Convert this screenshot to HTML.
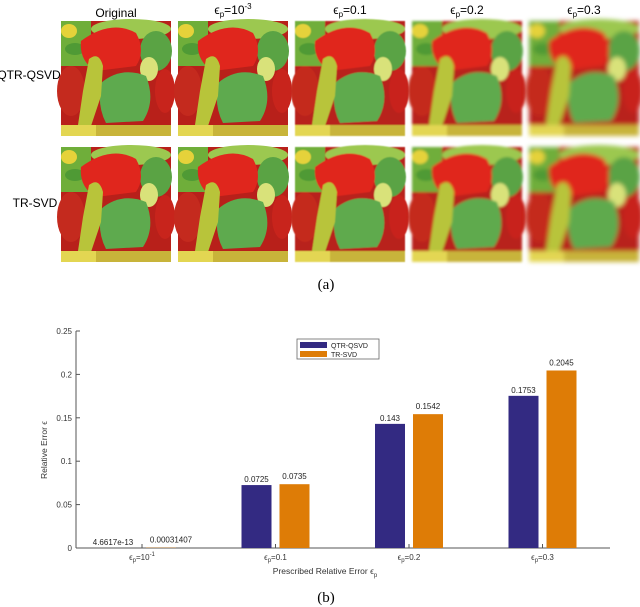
<!DOCTYPE html>
<html><head><meta charset="utf-8"><style>
body{margin:0;background:#fff;width:640px;height:607px;overflow:hidden;font-family:"Liberation Sans",sans-serif}
svg{display:block}
</style></head><body>
<svg width="640" height="607" viewBox="0 0 640 607">
<defs>
<filter id="b1"><feGaussianBlur stdDeviation="0.6"/></filter>
<filter id="b2"><feGaussianBlur stdDeviation="1.4"/></filter>
<filter id="b3"><feGaussianBlur stdDeviation="2.4"/></filter>
<g id="pep">
<rect x="0" y="0" width="110" height="115" fill="#b8201a"/>
<rect x="0" y="0" width="30" height="45" fill="#6fae3a"/>
<ellipse cx="8" cy="10" rx="8" ry="7" fill="#e5d23a"/>
<ellipse cx="14" cy="28" rx="10" ry="6" fill="#4f9a35"/>
<ellipse cx="70" cy="8" rx="40" ry="10" fill="#9cc850"/>
<ellipse cx="95" cy="30" rx="16" ry="20" fill="#5aa344"/>
<ellipse cx="88" cy="48" rx="9" ry="12" fill="#d9e27a"/>
<ellipse cx="104" cy="70" rx="10" ry="22" fill="#c8241c"/>
<ellipse cx="10" cy="70" rx="14" ry="25" fill="#c42a1e"/>
<path d="M20 20 Q50 -2 75 12 Q85 30 75 45 L35 50 Q18 40 20 20Z" fill="#e0261d"/>
<path d="M40 62 Q60 45 85 55 Q95 80 82 100 L45 102 Q36 85 40 62Z" fill="#5eaa4e"/>
<path d="M28 38 Q38 30 42 45 L40 75 L30 105 L17 104 L22 70Z" fill="#b8c43a"/>
<rect x="0" y="104" width="110" height="11" fill="#c8b43a"/>
<rect x="0" y="104" width="35" height="11" fill="#e3d652"/>
</g>
</defs>

<g font-size="12">
<text x="116" y="17" text-anchor="middle">Original</text>
<text x="233" y="14" text-anchor="middle">ϵ<tspan font-size="8" dy="3">p</tspan><tspan dy="-3">=10</tspan><tspan font-size="8" dy="-5">-3</tspan></text>
<text x="350" y="14" text-anchor="middle">ϵ<tspan font-size="8" dy="3">p</tspan><tspan dy="-3">=0.1</tspan></text>
<text x="467" y="14" text-anchor="middle">ϵ<tspan font-size="8" dy="3">p</tspan><tspan dy="-3">=0.2</tspan></text>
<text x="584" y="14" text-anchor="middle">ϵ<tspan font-size="8" dy="3">p</tspan><tspan dy="-3">=0.3</tspan></text>
<text x="29" y="79" text-anchor="middle">QTR-QSVD</text>
<text x="35" y="207" text-anchor="middle">TR-SVD</text>
<g>
<use href="#pep" x="61" y="21"/>
<use href="#pep" x="178" y="21"/>
<use href="#pep" x="295" y="21" filter="url(#b1)"/>
<use href="#pep" x="412" y="21" filter="url(#b2)"/>
<use href="#pep" x="529" y="21" filter="url(#b3)"/>
</g>
<g>
<use href="#pep" x="61" y="147"/>
<use href="#pep" x="178" y="147"/>
<use href="#pep" x="295" y="147" filter="url(#b1)"/>
<use href="#pep" x="412" y="147" filter="url(#b2)"/>
<use href="#pep" x="529" y="147" filter="url(#b3)"/>
</g>
<text x="326" y="289" text-anchor="middle" font-family="Liberation Serif,serif" font-size="15">(a)</text>
</g>

<g id="chart"></g>
<text x="326" y="602" text-anchor="middle" font-family="Liberation Serif,serif" font-size="15">(b)</text>
</svg>
<script>
const categories=["ϵp=10^-1","ϵp=0.1","ϵp=0.2","ϵp=0.3"];
const catBase=["10","0.1","0.2","0.3"];
const qtrValues=[4.6617e-13,0.0725,0.143,0.1753];
const trValues=[0.00031407,0.0735,0.1542,0.2045];
const qtrLabels=["4.6617e-13","0.0725","0.143","0.1753"];
const trLabels=["0.00031407","0.0735","0.1542","0.2045"];
const yTicks=[0,0.05,0.1,0.15,0.2,0.25];

const NS="http://www.w3.org/2000/svg";
const g=document.getElementById('chart');
const X0=76,X1=610,Y0=548,Y1=331,YMAX=0.25;
const y=v=>Y0-(v/YMAX)*(Y0-Y1);
const gw=(X1-X0)/categories.length;
const xc=i=>142+i*gw*1.0;
function mk(t,a,txt){const e=document.createElementNS(NS,t);for(const k in a)e.setAttribute(k,a[k]);if(txt!=null)e.textContent=txt;g.appendChild(e);return e;}
let e;
e=mk('line',{x1:X0,y1:Y0,x2:X1,y2:Y0,stroke:'#555','stroke-width':1});


e=mk('line',{x1:X0,y1:Y0,x2:X0,y2:Y1,stroke:'#555','stroke-width':1});


yTicks.forEach(v=>{
 mk('line',{x1:X0,y1:y(v),x2:X0+4,y2:y(v),stroke:'#555'});
 e=mk('text',{x:X0-4,y:y(v)+3,'text-anchor':'end','font-size':8,fill:'#333'},String(v));
 
 
});
const bw=30;
categories.forEach((c,i)=>{
 const cx=xc(i);
 mk('line',{x1:cx,y1:Y0,x2:cx,y2:Y0-4,stroke:'#555'});
 e=mk('rect',{x:cx-4-bw,y:y(qtrValues[i]),width:bw,height:Y0-y(qtrValues[i]),fill:'#332a82'});
 
 
 e=mk('rect',{x:cx+4,y:y(trValues[i]),width:bw,height:Y0-y(trValues[i]),fill:'#de7c06'});
 
 
 e=mk('text',{x:cx-4-bw/2+(i==0?-10:0),y:y(qtrValues[i])-3,'text-anchor':'middle','font-size':8,fill:'#222'},qtrLabels[i]);
 
 
 e=mk('text',{x:cx+4+bw/2+(i==0?10:0),y:y(trValues[i])-5,'text-anchor':'middle','font-size':8,fill:'#222'},trLabels[i]);
 
 
 e=mk('text',{x:cx,y:560,'text-anchor':'middle','font-size':8,fill:'#333'});
 
 
 e.innerHTML='ϵ<tspan font-size="6" dy="2">p</tspan><tspan dy="-2">='+catBase[i]+'</tspan>'+(i==0?'<tspan font-size="6" dy="-4">-1</tspan>':'');
});
e=mk('text',{x:325,y:574,'text-anchor':'middle','font-size':8.5,fill:'#333'});


e.innerHTML='Prescribed Relative Error ϵ<tspan font-size="6" dy="3">p</tspan>';
e=mk('text',{x:0,y:0,'text-anchor':'middle','font-size':8.5,fill:'#333',transform:'translate(47,450) rotate(-90)'},'Relative Error ϵ');


// legend
e=mk('rect',{x:297,y:339,width:82,height:20,fill:'#fff',stroke:'#666','stroke-width':0.8});


mk('rect',{x:300,y:342,width:27,height:6,fill:'#332a82'});
mk('rect',{x:300,y:351,width:27,height:6,fill:'#de7c06'});
e=mk('text',{x:331,y:348,'font-size':7,fill:'#222'},'QTR-QSVD');


e=mk('text',{x:331,y:357,'font-size':7,fill:'#222'},'TR-SVD');


</script>
</body></html>
